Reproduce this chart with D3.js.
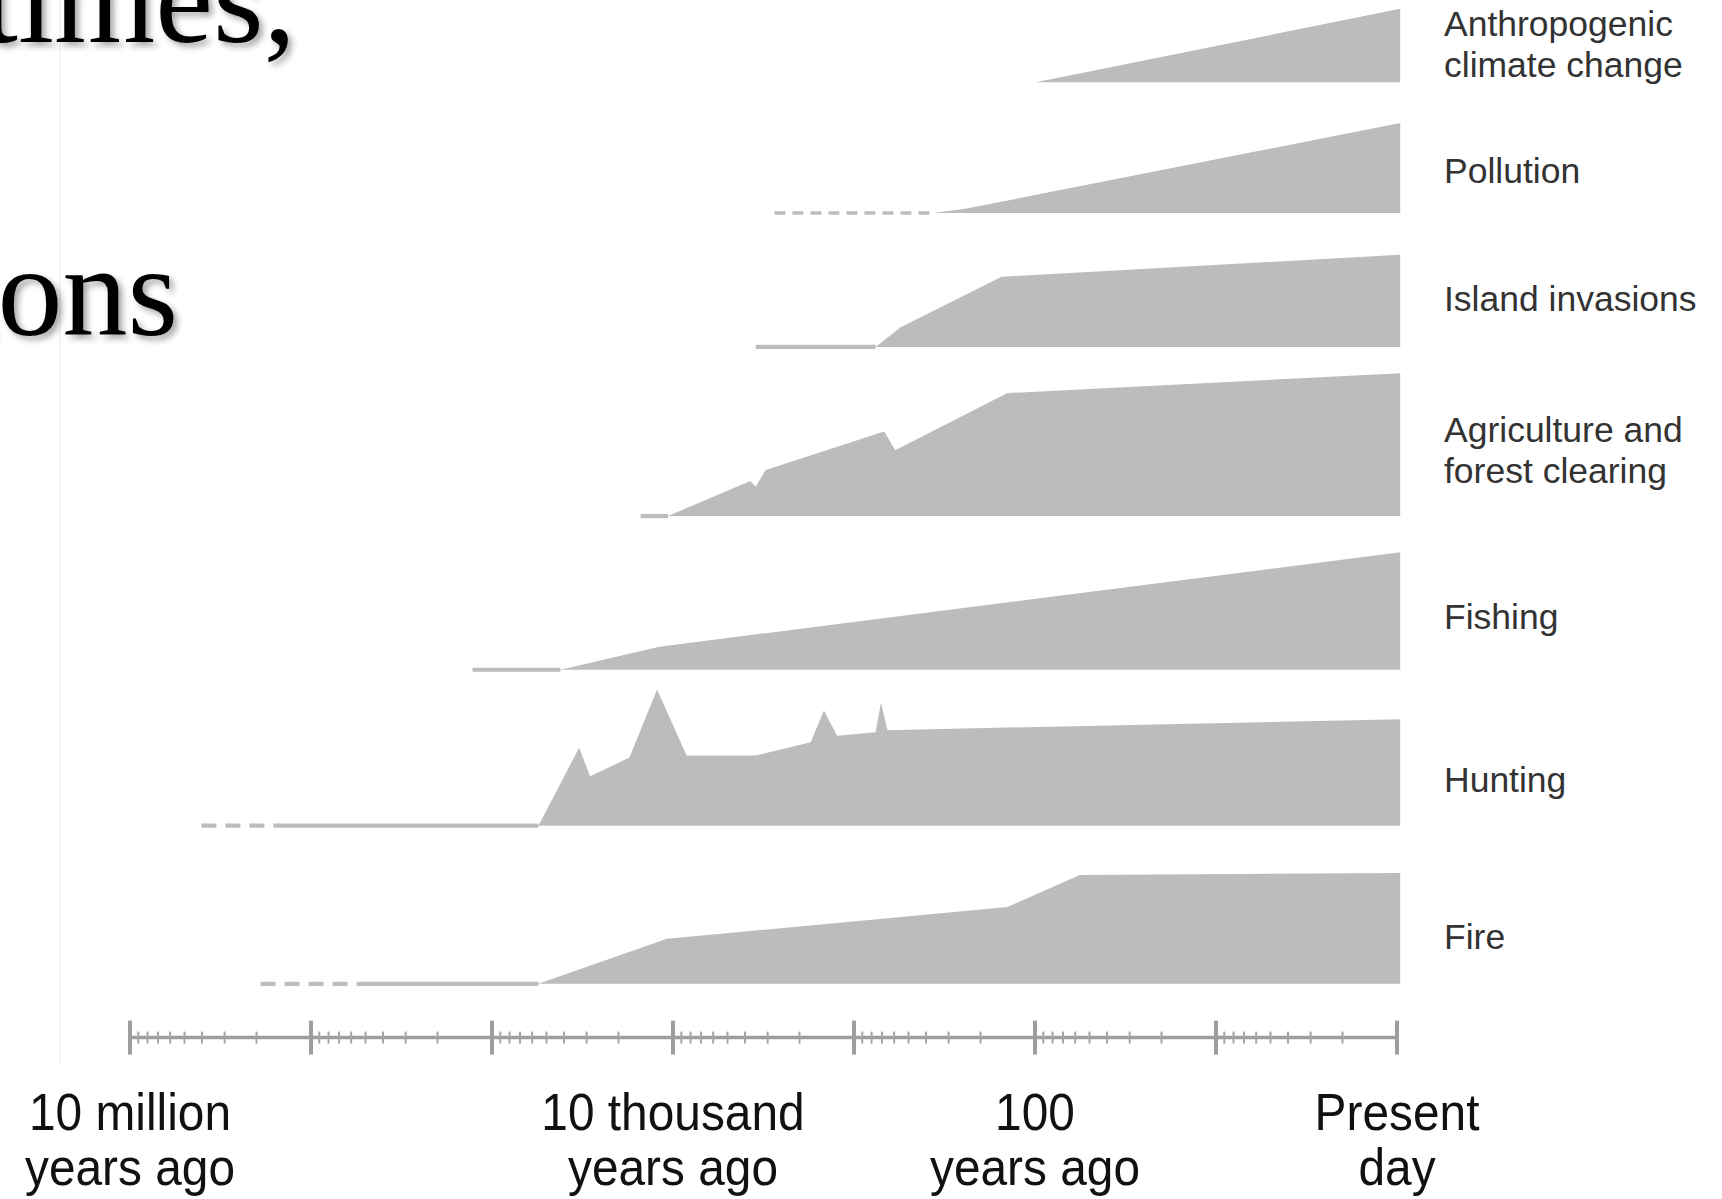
<!DOCTYPE html>
<html>
<head>
<meta charset="utf-8">
<script src="https://cdn.jsdelivr.net/npm/d3@7"></script>
<style>
  html, body { margin: 0; padding: 0; background: #fff; }
  svg { display: block; }
</style>
</head>
<body>
<script>
// ---------- DATA ----------
// rows, top to bottom
const categories = ["Anthropogenic climate change", "Pollution", "Island invasions",
  "Agriculture and forest clearing", "Fishing", "Hunting", "Fire"];
const labelLines = [["Anthropogenic", "climate change"], ["Pollution"], ["Island invasions"],
  ["Agriculture and", "forest clearing"], ["Fishing"], ["Hunting"], ["Fire"]];
// row baseline (vertical offset, in impact units from top)
const rowOffsets = [75, 194, 316, 470, 610, 752, 896];

// series: [years ago, relative impact]
const anthropogenic = [[99, 0], [0.96, 67]];
const pollution = [[363, 0], [239, 4], [0.96, 82]];
const island = [[760, 0], [552, 18], [153, 64], [0.96, 84]];
const agriculture = [[10660, 0], [3740, 32], [3490, 27], [3076, 42], [681, 77], [592, 60], [142, 112], [0.96, 130]];
const fishing = [[41900, 0], [11900, 21], [0.96, 107]];
const hunting = [[55400, 0], [33000, 71], [28700, 45], [17400, 62], [12250, 124], [8410, 64], [3490, 64],
  [1735, 76], [1466, 105], [1241, 82], [760, 85], [710, 112], [653, 87], [0.96, 97]];
const fire = [[55400, 0], [10800, 41], [142, 70], [56.6, 99], [0.96, 101]];
const seriesList = [anthropogenic, pollution, island, agriculture, fishing, hunting, fire];

// lead-in lines before each area: [row index, from (years ago), to (years ago), style]
const leadLines = [
  [1, 2750, 363, "fine"],
  [2, 3490, 760, "solid"],
  [3, 15100, 10660, "solid"],
  [4, 128000, 41900, "solid"],
  [5, 4.03e6, 1.58e6, "dashed"],
  [5, 1.58e6, 55400, "solid"],
  [6, 1.9e6, 555000, "dashed"],
  [6, 555000, 55400, "solid"]
];

// time axis
const majorTicks = [1e7, 1e6, 1e5, 1e4, 1e3, 1e2, 1e1, 1];
const tickLabels = [[1e7, "10 million", "years ago"], [1e4, "10 thousand", "years ago"],
  [1e2, "100", "years ago"], [1, "Present", "day"]];

// ---------- CHART ----------
const W = 1722, H = 1199;
const svg = d3.select("body").append("svg").attr("width", W).attr("height", H)
  .style("background", "#fff");

const defs = svg.append("defs");
const f = defs.append("filter").attr("id", "shadow").attr("x", "-10%").attr("y", "-10%")
  .attr("width", "130%").attr("height", "140%");
f.append("feDropShadow").attr("dx", 4).attr("dy", 4).attr("stdDeviation", 3)
  .attr("flood-color", "#000").attr("flood-opacity", 0.35);

// faint slide edge
svg.append("line").attr("x1", 60).attr("x2", 60).attr("y1", 0).attr("y2", 1065)
  .attr("stroke", "#f3f3f3").attr("stroke-width", 2);

// slide title fragments (cut at the slide edge, as in the reference)
svg.append("text").attr("x", 296).attr("y", 42).attr("text-anchor", "end")
  .attr("font-family", "Liberation Serif, Times New Roman, serif").attr("font-size", 130)
  .attr("fill", "#000").attr("filter", "url(#shadow)").text("times,");
svg.append("text").attr("x", 178).attr("y", 335).attr("text-anchor", "end")
  .attr("font-family", "Liberation Serif, Times New Roman, serif").attr("font-size", 130)
  .attr("fill", "#000").attr("filter", "url(#shadow)").text("ions");

const x = d3.scaleLog().domain([1e7, 1]).range([130, 1397]);
// vertical: impact units -> pixels
const y = d3.scaleLinear().domain([0, 1092]).range([0, 1199]);

const fillCol = "#bcbcbe";

const area = (base) => d3.area()
  .x(d => x(d[0]))
  .y0(() => y(base))
  .y1(d => y(base - d[1]));

const g = svg.append("g");
seriesList.forEach((s, i) => {
  g.append("path").datum(s).attr("d", area(rowOffsets[i])).attr("fill", fillCol);
});

leadLines.forEach(([r, a, b, style]) => {
  const ln = g.append("line")
    .attr("x1", x(a)).attr("x2", x(b))
    .attr("y1", y(rowOffsets[r])).attr("y2", y(rowOffsets[r]))
    .attr("stroke", fillCol)
    .attr("stroke-width", style === "fine" ? 3.5 : 4.2);
  if (style === "dashed") ln.attr("stroke-dasharray", "15,9");
  if (style === "fine") ln.attr("stroke-dasharray", "11,7");
});

// labels
labelLines.forEach((lines, i) => {
  const base = [33, 167, 283, 403, 573, 721, 864][i];
  lines.forEach((t, j) => {
    svg.append("text").attr("x", 1444).attr("y", y(base + j * 37))
      .attr("font-family", "Liberation Sans, Arial, sans-serif").attr("font-size", 35.5)
      .attr("fill", "#333").text(t);
  });
});

// axis
const axisY = y(945);
const ax = svg.append("g").attr("transform", `translate(0,${axisY})`);
ax.append("line").attr("x1", x(1e7)).attr("x2", x(1)).attr("stroke", "#9d9d9d").attr("stroke-width", 3.5);
const minor = [];
for (let e = 6; e >= 0; e--) for (let k = 2; k <= 9; k++) minor.push(k * Math.pow(10, e));
ax.selectAll("line.minor").data(minor).join("line").attr("class", "minor")
  .attr("x1", d => x(d)).attr("x2", d => x(d)).attr("y1", -6).attr("y2", 6)
  .attr("stroke", "#a5a5a5").attr("stroke-width", 2);
ax.selectAll("line.major").data(majorTicks).join("line").attr("class", "major")
  .attr("x1", d => x(d)).attr("x2", d => x(d)).attr("y1", -17).attr("y2", 17)
  .attr("stroke", "#9d9d9d").attr("stroke-width", 4);

tickLabels.forEach(([v, l1, l2]) => {
  [l1, l2].forEach((t, j) => {
    svg.append("text")
      .attr("transform", `translate(${x(v)},${y(1029 + j * 50)}) scale(0.92,1)`)
      .attr("text-anchor", "middle")
      .attr("font-family", "Liberation Sans, Arial, sans-serif").attr("font-size", 52)
      .attr("fill", "#111").text(t);
  });
});
</script>
</body>
</html>
